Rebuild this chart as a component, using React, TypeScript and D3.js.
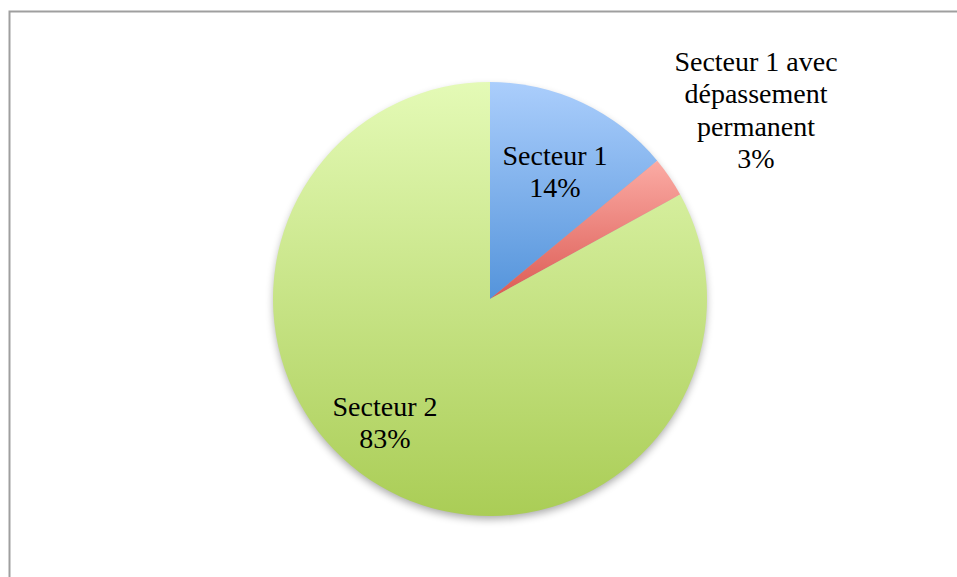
import React from "react";
import * as d3 from "d3";

const categories = ["Secteur 1", "Secteur 1 avec dépassement permanent", "Secteur 2"];
const values = [14, 3, 83];
const labelLines = [
  ["Secteur 1", "14%"],
  ["Secteur 1 avec", "dépassement", "permanent", "3%"],
  ["Secteur 2", "83%"],
];
const gradientStops = [
  ["#abcefc", "#5494db"],
  ["#fbaba4", "#dc5b54"],
  ["#e4fab6", "#aacd56"],
];
// label anchor: [x, y of first baseline]
const labelAnchors = [
  [555, 165],
  [756, 71],
  [385, 416],
];

export default function App() {
  const W = 957, H = 577;
  const cx = 490, cy = 299, r = 217;
  const pie = d3.pie<number>().sort(null).value((d) => d)(values);
  const arc = d3.arc<d3.PieArcDatum<number>>().innerRadius(0).outerRadius(r);
  const lh = 32.3;
  return (
    <svg width={W} height={H} style={{ position: "absolute", left: 0, top: 0 }}>
      <defs>
        {gradientStops.map((g, i) => (
          <linearGradient key={i} id={`g${i}`} x1="0" y1="0" x2="0" y2="1">
            <stop offset="0" stopColor={g[0]} />
            <stop offset="1" stopColor={g[1]} />
          </linearGradient>
        ))}
        <filter id="sh" x="-20%" y="-20%" width="140%" height="140%">
          <feGaussianBlur stdDeviation="4" />
        </filter>
      </defs>
      <rect x={0} y={0} width={W} height={H} fill="#fff" />
      <path d={`M9.5,${H} V11.5 H${W}`} fill="none" stroke="#9f9f9f" strokeWidth={2} />
      <g transform={`translate(${cx},${cy})`}>
        <circle cx={0} cy={4} r={r - 1} fill="#000" opacity={0.35} filter="url(#sh)" />
        {pie.map((p, i) => (
          <path key={categories[i]} d={arc(p) as string} fill={`url(#g${i})`} />
        ))}
      </g>
      {labelLines.map((lines, i) => (
        <text
          key={i}
          x={labelAnchors[i][0]}
          y={labelAnchors[i][1]}
          textAnchor="middle"
          fontFamily="'Liberation Serif', serif"
          fontSize={28}
          fill="#000"
        >
          {lines.map((l, j) => (
            <tspan key={j} x={labelAnchors[i][0]} y={labelAnchors[i][1] + j * lh}>
              {l}
            </tspan>
          ))}
        </text>
      ))}
    </svg>
  );
}
